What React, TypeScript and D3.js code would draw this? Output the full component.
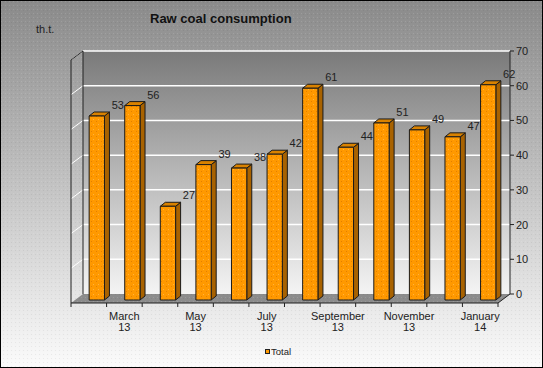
import React from "react";
import * as d3 from "d3";

const months = ["February", "March", "April", "May", "June", "July", "August", "September", "October", "November", "December", "January"];
const years = ["13", "13", "13", "13", "13", "13", "13", "13", "13", "13", "13", "14"];
const values = [53, 56, 27, 39, 38, 42, 61, 44, 51, 49, 47, 62];
const yTicks = [0, 10, 20, 30, 40, 50, 60, 70];

const W = 543;
const H = 368;
const font = "'Liberation Sans', Arial, sans-serif";

export default function App() {
  // back wall box, depth goes down-left towards the viewer
  const back = { left: 83, right: 510, top: 51, bottom: 294 };
  const depth = { dx: -12, dy: 9 };

  const yBack = d3.scaleLinear().domain([0, 70]).range([back.bottom, back.top]);
  const x = d3
    .scaleBand<number>()
    .domain(d3.range(values.length))
    .range([back.left + depth.dx, back.right + depth.dx])
    .padding(0);

  // bars stand 2/3 of the way to the front
  const barShift = { dx: depth.dx * (2 / 3), dy: depth.dy * (2 / 3) };
  const yBar = (v: number) => yBack(v) + barShift.dy;
  const bw = x.bandwidth() * 0.43;
  const side = { dx: 5, dy: -4 };

  const frontBottom = back.bottom + depth.dy;
  const frontLeft = back.left + depth.dx;
  const frontRight = back.right + depth.dx;

  return (
    <svg width={W} height={H} style={{ position: "absolute", left: 0, top: 0, display: "block" }} fontFamily={font}>
      <defs>
        <linearGradient id="bg" x1="0" y1="0" x2="0" y2="1">
          <stop offset="0" stopColor="#8a8a8a" />
          <stop offset="1" stopColor="#fbfbfb" />
        </linearGradient>
        <linearGradient id="wall" x1="0" y1="0" x2="0" y2="1">
          <stop offset="0" stopColor="#7a7a7a" />
          <stop offset="1" stopColor="#f4f4f4" />
        </linearGradient>
        <pattern id="noise" width="4" height="4" patternUnits="userSpaceOnUse">
          <rect x="1" y="1" width="1" height="1" fill="#fff" opacity="0.12" />
          <rect x="3" y="2" width="1" height="1" fill="#000" opacity="0.06" />
        </pattern>
        <pattern id="dots" width="5" height="5" patternUnits="userSpaceOnUse">
          <rect width="5" height="5" fill="#ff9900" />
          <rect x="1" y="1" width="1" height="1" fill="#d87400" opacity="0.7" />
          <rect x="3" y="4" width="1" height="1" fill="#ffb84d" opacity="0.8" />
        </pattern>
      </defs>

      <rect x={0} y={0} width={W} height={H} fill="url(#bg)" />
      <rect x={0} y={0} width={W} height={H} fill="url(#noise)" />

      <text x={150} y={23} fontSize={13} fontWeight="bold" fill="#111">Raw coal consumption</text>
      <text x={36} y={33} fontSize={11} fill="#222">th.t.</text>

      {/* back wall */}
      <rect x={back.left} y={back.top} width={back.right - back.left} height={back.bottom - back.top} fill="url(#wall)" />
      {/* floor */}
      <path
        d={`M${back.left},${back.bottom}L${back.right},${back.bottom}L${frontRight},${frontBottom}L${frontLeft},${frontBottom}Z`}
        fill="#8c8c8c"
      />
      <path
        d={`M${back.left},${back.bottom}L${back.right},${back.bottom}L${frontRight},${frontBottom}L${frontLeft},${frontBottom}Z`}
        fill="url(#noise)"
      />

      {/* gridlines on back and left wall */}
      {yTicks.filter((t) => t > 0).map((t) => (
        <g key={t}>
          <line x1={back.left} x2={back.right} y1={yBack(t)} y2={yBack(t)} stroke="#fff" strokeWidth={1.5} />
          <line x1={frontLeft} x2={back.left} y1={yBack(t) + depth.dy} y2={yBack(t)} stroke="#fff" strokeWidth={1} />
        </g>
      ))}

      {/* wall edges */}
      <path
        d={`M${frontLeft},${frontBottom}L${frontLeft},${back.top + depth.dy}L${back.left},${back.top}L${back.left},${back.bottom}`}
        fill="none"
        stroke="#222"
        strokeWidth={1}
      />

      {/* bars */}
      {values.map((v, i) => {
        const x0 = (x(i) as number) + x.bandwidth() / 2 - bw / 2 - barShift.dx;
        const y0 = yBar(v);
        const yb = yBar(0);
        const x1 = x0 + bw;
        return (
          <g key={i} stroke="#1a1a1a" strokeWidth={1} strokeLinejoin="round">
            <path d={`M${x1},${y0}L${x1 + side.dx},${y0 + side.dy}L${x1 + side.dx},${yb + side.dy}L${x1},${yb}Z`} fill="#a86200" />
            <path d={`M${x0},${y0}L${x0 + side.dx},${y0 + side.dy}L${x1 + side.dx},${y0 + side.dy}L${x1},${y0}Z`} fill="#d98200" />
            <rect x={x0} y={y0} width={bw} height={yb - y0} fill="url(#dots)" />
          </g>
        );
      })}

      {/* value labels */}
      {values.map((v, i) => (
        <text
          key={i}
          x={(x(i) as number) + x.bandwidth() / 2 - barShift.dx + 21}
          y={yBar(v) - 7}
          fontSize={11}
          textAnchor="middle"
          fill="#222"
        >
          {v}
        </text>
      ))}

      {/* right value axis */}
      <path
        d={`M${back.right},${back.top}L${back.right},${back.bottom}L${frontRight},${frontBottom}`}
        fill="none"
        stroke="#222"
      />
      {yTicks.map((t) => (
        <g key={t}>
          <line x1={back.right} x2={back.right + 4} y1={yBack(t)} y2={yBack(t)} stroke="#222" />
          <text x={back.right + 6} y={yBack(t) + 4} fontSize={11} fill="#222">{t}</text>
        </g>
      ))}

      {/* category axis */}
      <line x1={frontLeft} x2={frontRight} y1={frontBottom} y2={frontBottom} stroke="#222" />
      {d3.range(values.length + 1).map((i) => {
        const px = frontLeft + i * x.bandwidth();
        return <line key={i} x1={px} x2={px} y1={frontBottom} y2={frontBottom + 4} stroke="#222" />;
      })}
      {months.map((m, i) =>
        i % 2 === 1 ? (
          <text key={m} x={(x(i) as number) + x.bandwidth() / 2} y={320} fontSize={11} textAnchor="middle" fill="#222">
            <tspan x={(x(i) as number) + x.bandwidth() / 2}>{m}</tspan>
            <tspan x={(x(i) as number) + x.bandwidth() / 2} dy={11}>{years[i]}</tspan>
          </text>
        ) : null
      )}

      {/* legend */}
      <rect x={265.5} y={349.5} width={4} height={4} fill="#ff9900" stroke="#222" />
      <text x={271} y={355} fontSize={9.5} fill="#222">Total</text>

      <rect x={0.5} y={0.5} width={W - 1} height={H - 1} fill="none" stroke="#000" />
    </svg>
  );
}
